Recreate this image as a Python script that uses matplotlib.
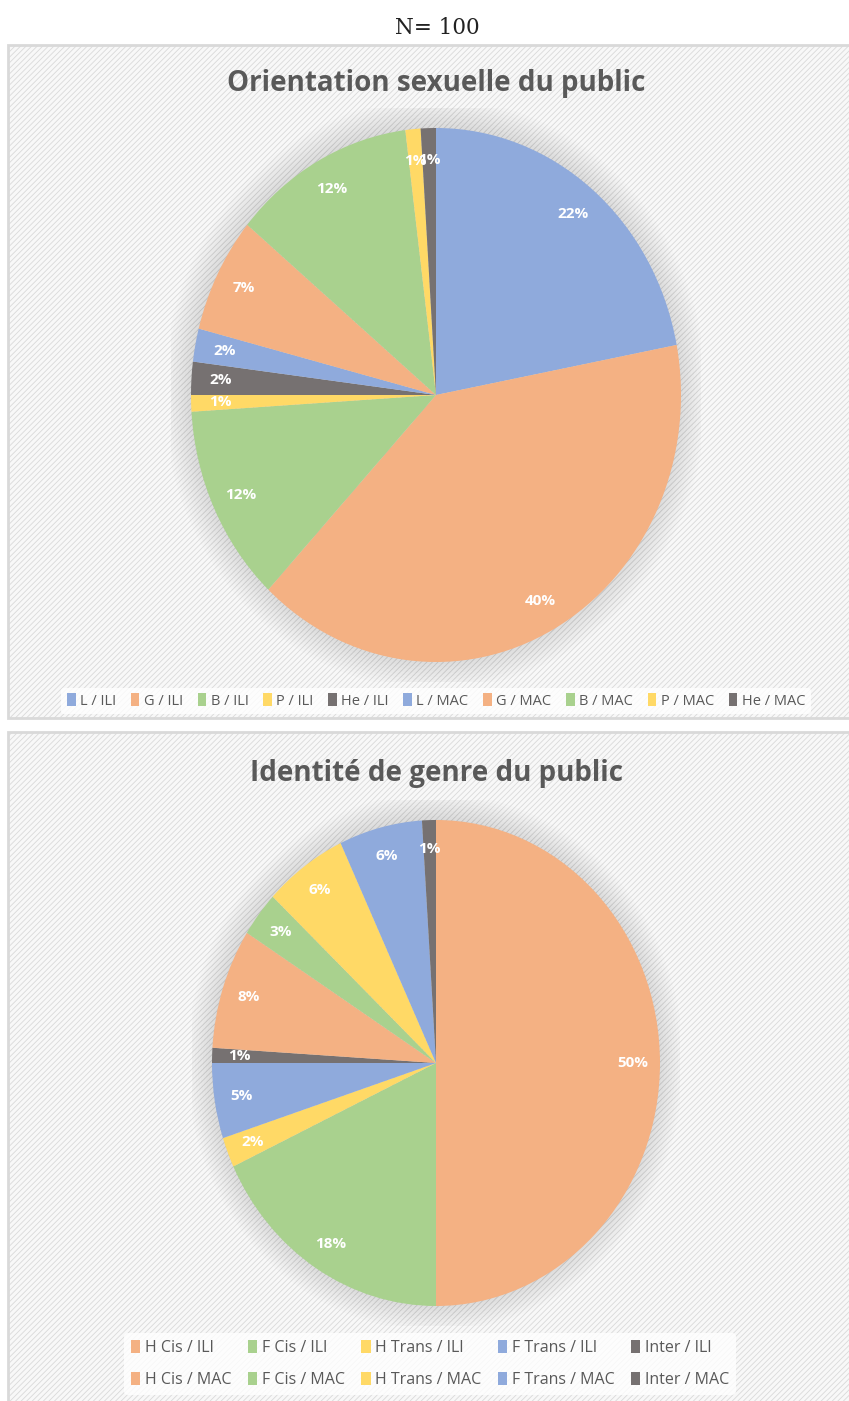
import matplotlib
matplotlib.use('Agg')
import matplotlib.pyplot as plt
from matplotlib.patches import Rectangle, Patch, Ellipse

# Données
orient_labels = ['L / ILI', 'G / ILI', 'B / ILI', 'P / ILI', 'He / ILI',
                 'L / MAC', 'G / MAC', 'B / MAC', 'P / MAC', 'He / MAC']
orient_values = [22, 40, 12, 1, 2, 2, 7, 12, 1, 1]

genre_labels = ['H Cis / ILI', 'F Cis / ILI', 'H Trans / ILI', 'F Trans / ILI', 'Inter / ILI',
                'H Cis / MAC', 'F Cis / MAC', 'H Trans / MAC', 'F Trans / MAC', 'Inter / MAC']
genre_values = [50, 18, 2, 5, 1, 8, 3, 6, 6, 1]

BLUE = '#8FAADC'
ORANGE = '#F4B183'
GREEN = '#A9D18E'
YELLOW = '#FFD966'
GREY = '#767171'
orient_colors = [BLUE, ORANGE, GREEN, YELLOW, GREY] * 2
genre_colors = [ORANGE, GREEN, YELLOW, BLUE, GREY] * 2

W, H = 849, 1401
plt.rcParams['hatch.color'] = '#EEEEEE'
plt.rcParams['hatch.linewidth'] = 0.6

fig = plt.figure(figsize=(W / 100, H / 100), dpi=100)
fig.patch.set_facecolor('white')


def fx(px):
    return px / W


def fy(py):
    return 1 - py / H


def panel(top, bottom):
    rect = Rectangle((fx(8), fy(bottom)), fx(W - 8 + 4), (bottom - top) / H,
                     transform=fig.transFigure, facecolor='#F8F8F8',
                     edgecolor='#D9D9D9', linewidth=2, hatch='//////', zorder=0)
    fig.add_artist(rect)


def draw_pie(values, colors, cx, cy, rx, ry):
    ax = fig.add_axes([fx(cx - rx - 20), fy(cy + ry + 20), 2 * (rx + 20) / W, 2 * (ry + 20) / H])
    sx = (rx + 20) / rx
    sy = (ry + 20) / ry
    # ombre douce derrière le camembert
    for k in range(10):
        grow = 0.004 * k
        ax.add_patch(Ellipse((-0.004, 0.004), 2 + grow * 6, 2 + grow * 6,
                             facecolor='#000000', alpha=0.012, linewidth=0, zorder=0))
    ax.pie(values, colors=colors, startangle=90, counterclock=False,
           autopct='%d%%', pctdistance=0.88, radius=1,
           wedgeprops=dict(linewidth=0, zorder=2),
           textprops=dict(color='white', fontweight='bold', fontsize=11, family='Open Sans'))
    ax.set_aspect('auto')
    ax.set_xlim(-sx, sx)
    ax.set_ylim(-sy, sy)
    ax.patch.set_alpha(0)
    return ax


def row_major(items, ncol):
    # la légende de matplotlib remplit par colonne : on réordonne pour lire par ligne
    nrow = (len(items) + ncol - 1) // ncol
    return [items[r * ncol + c] for c in range(ncol) for r in range(nrow)]


fig.text(fx(437), fy(28), 'N= 100', ha='center', va='center',
         fontsize=15.5, family='DejaVu Serif', color='#222222')

# Panneau 1
panel(45, 718)
fig.text(fx(436), fy(84), 'Orientation sexuelle du public', ha='center', va='center',
         fontsize=20, fontweight='bold', family='Open Sans', color='#595959')
draw_pie(orient_values, orient_colors, 436, 395, 245, 267)
h1 = [Patch(facecolor=c, edgecolor='none') for c in orient_colors]
leg1 = fig.legend(h1, orient_labels, loc='center', bbox_to_anchor=(fx(436), fy(701)),
                  ncol=10, frameon=True, handlelength=0.6, handleheight=0.9,
                  handletextpad=0.3, columnspacing=1.0, borderpad=0.4,
                  prop=dict(family='Open Sans', size=10.5))
leg1.get_frame().set_facecolor('white')
leg1.get_frame().set_edgecolor('none')
for t in leg1.get_texts():
    t.set_color('#595959')

# Panneau 2
panel(732, 1405)
fig.text(fx(436), fy(773), 'Identité de genre du public', ha='center', va='center',
         fontsize=20, fontweight='bold', family='Open Sans', color='#595959')
draw_pie(genre_values, genre_colors, 436, 1063, 224, 243)
h2 = [Patch(facecolor=c, edgecolor='none') for c in genre_colors]
leg2 = fig.legend(row_major(h2, 5), row_major(genre_labels, 5), loc='center',
                  bbox_to_anchor=(fx(430), fy(1364)),
                  ncol=5, frameon=True, handlelength=0.6, handleheight=0.9,
                  handletextpad=0.3, columnspacing=1.0, borderpad=0.4, labelspacing=1.0,
                  prop=dict(family='Open Sans', size=11.5))
leg2.get_frame().set_facecolor('white')
leg2.get_frame().set_edgecolor('none')
for t in leg2.get_texts():
    t.set_color('#595959')

fig.savefig('out.png', dpi=100)
